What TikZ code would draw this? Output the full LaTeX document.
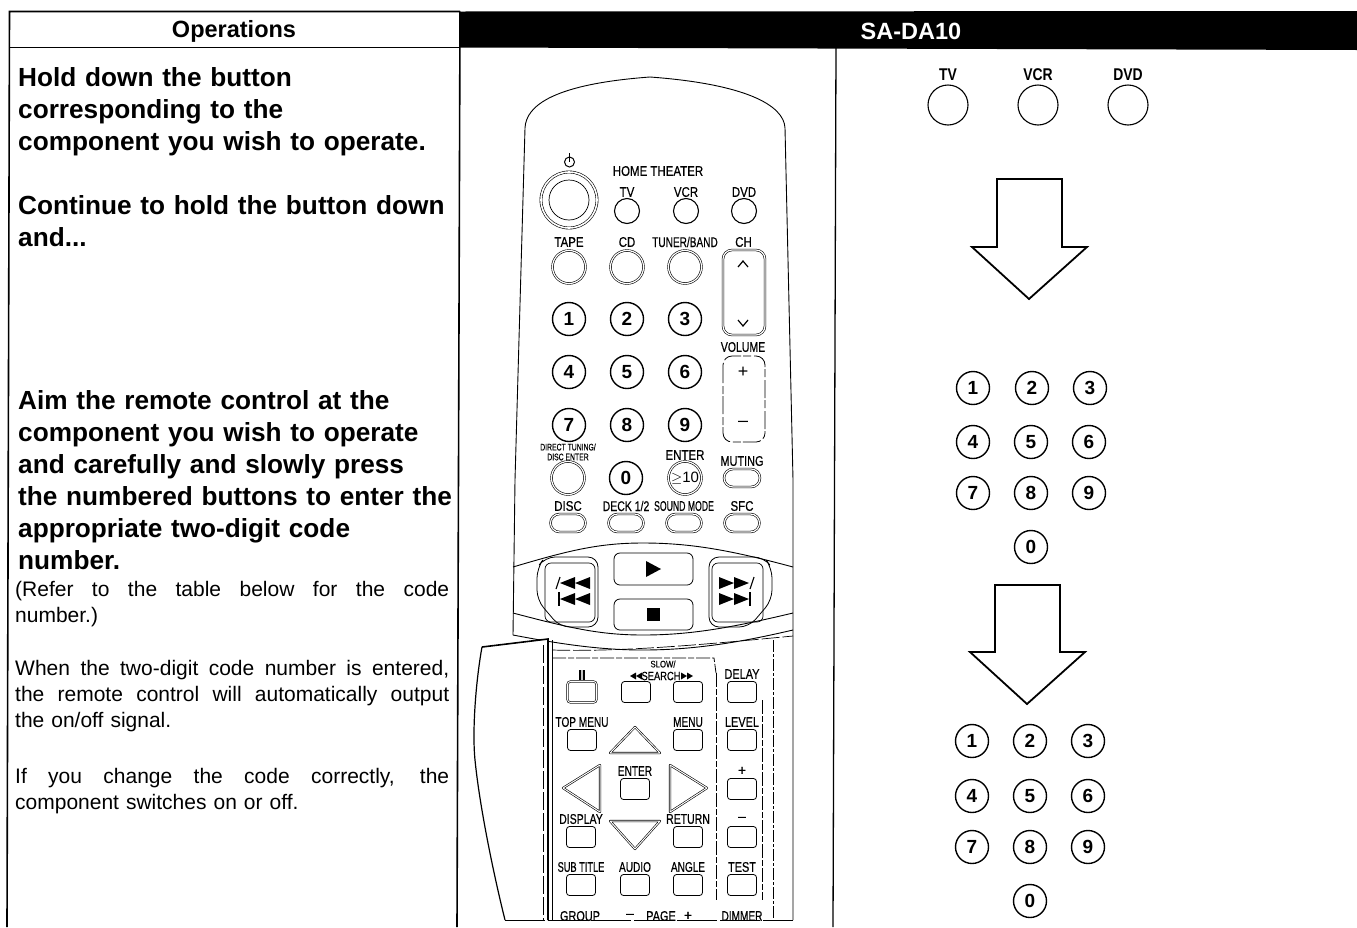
\documentclass[tikz,border=0pt]{standalone}
\usepackage{fontspec}
\setmainfont{Liberation Sans}
\newfontfamily\lblfont[FakeBold=0.5]{Liberation Sans}
\usetikzlibrary{shapes.misc}
\newcommand{\nw}[2][0.82]{\scalebox{#1}[1]{#2}}
\newcommand{\jl}[1]{\makebox[434pt][s]{\spaceskip=.28em plus 1fil\relax #1}}
\tikzset{
 x=1pt,y=-1pt,
 rule/.style={line width=1.6pt,black},
 bigtxt/.style={anchor=north west,inner sep=0pt,text width=445pt,align=left,font=\fontsize{26.2}{32}\selectfont\bfseries},
 smalltxt/.style={anchor=north west,inner sep=0pt,text width=436pt,align=left,font=\fontsize{21}{26}\selectfont},
 hdr/.style={inner sep=0pt,font=\fontsize{23.5}{26}\selectfont\bfseries},
 lbl/.style={inner sep=0pt,font=\fontsize{14}{15}\lblfont},
 tiny/.style={inner sep=0pt,font=\fontsize{9.5}{10}\lblfont},
 numbtn/.style={circle,draw,line width=1.4pt,minimum size=33pt,inner sep=0pt,font=\fontsize{19}{20}\selectfont\bfseries},
 keybtn/.style={circle,draw,line width=1.1pt,minimum size=25pt,inner sep=0pt},
 dblround/.style={circle,draw,double,double distance=1.2pt,line width=.6pt,minimum size=33pt,inner sep=0pt},
 oval/.style={rounded rectangle,draw,double,double distance=1.2pt,line width=.6pt,minimum width=#1,minimum height=18pt,inner sep=0pt},
 sqbtn/.style={rectangle,rounded corners=3pt,draw,line width=.8pt,minimum width=29pt,minimum height=21pt,inner sep=0pt},
 bodyline/.style={line width=.9pt},
 brokenline/.style={line width=.8pt,dash pattern=on 14pt off 2pt on 6pt off 2pt},
 dpad/.style={draw,double,double distance=1pt,line width=.6pt,line join=round},
 sidedigit/.style={circle,draw,line width=1.4pt,minimum size=33pt,inner sep=0pt,font=\fontsize{19}{20}\selectfont\bfseries},
 sidebtn/.style={circle,draw,line width=1.1pt,minimum size=40pt,inner sep=0pt},
 sidelbl/.style={inner sep=0pt,font=\fontsize{17}{18}\selectfont\bfseries},
 bigarrow/.style={draw,line width=1.8pt,line join=miter},
 tip/.style={fill=black,draw=none},
}
\begin{document}
\begin{tikzpicture}
\useasboundingbox (0,0) rectangle (1357,927);
% table
\fill[black] (460,11.5) -- (1357,11) -- (1357,50) -- (460,47.5) -- cycle;
\draw[rule] (7,927) -- (9.5,11.5) -- (460,11.5);
\draw[rule] (9.5,47.5) -- (460,47.5);
\draw[rule] (460,11.5) -- (457,927);
\draw[line width=1.3pt] (836,47) -- (833,927);
\node[hdr] (hop) at (234,31) {Operations};
\node[hdr,text=white] (hsa) at (911,31) {SA-DA10};
% left text
\node[bigtxt] (t1) at (18,67.5) {Hold down the button\\corresponding to the\\component you wish to operate.};
\node[bigtxt] (t2) at (18,195.5) {Continue to hold the button down\\and...};
\node[bigtxt] (t3) at (18,390.5) {Aim the remote control at the\\component you wish to operate\\and carefully and slowly press\\the numbered buttons to enter the\\appropriate two-digit code\\number.};
\node[smalltxt] (t4) at (15,581.5) {\jl{(Refer to the table below for the code}\\number.)};
\node[smalltxt] (t5) at (15,660.5) {\jl{When the two-digit code number is entered,}\\\jl{the remote control will automatically output}\\the on/off signal.};
\node[smalltxt] (t6) at (15,768.5) {\jl{If you change the code correctly, the}\\component switches on or off.};
% remote body
\draw[bodyline] (515,480) -- (513,635);
\draw[bodyline] (515,480) -- (525,128) .. controls (526,105) and (555,84) .. (650,77) .. controls (745,84) and (784,105) .. (785,128) -- (793,480) -- (793,920);
% power
\node[circle,draw,double,double distance=1.6pt,line width=.6pt,minimum size=56pt] (pwr) at (569,200) {};
\node[circle,draw,line width=.7pt,minimum size=40pt] (pwri) at (569,200) {};
\draw[line width=1pt] (569.5,162) circle (5);
\draw[line width=1pt] (569.5,153) -- (569.5,162);
\node[lbl] (ht) at (658,171) {\nw{HOME THEATER}};
% source keys
\foreach \n/\l/\x in {tv/TV/627,vcr/VCR/686,dvd/DVD/744}{
 \node[keybtn] (k\n) at (\x,211) {};
 \node[lbl] (l\n) at (\x,192) {\nw{\l}};
}
\node[dblround] (ktape) at (569,267) {}; \node[lbl] (ltape) at (569,242) {\nw{TAPE}};
\node[dblround] (kcd) at (627,267) {}; \node[lbl] (lcd) at (627,242) {\nw{CD}};
\node[dblround] (ktuner) at (685,267) {}; \node[lbl] (ltuner) at (685,242) {\nw[0.72]{TUNER/BAND}};
\node[lbl] (lch) at (743.5,242) {\nw{CH}};
\draw[double,double distance=1.2pt,line width=.6pt,rounded corners=9pt] (723,250) rectangle (765,335);
\draw[line width=1.2pt] (738,267) -- (743,261) -- (748,267);
\draw[line width=1.2pt] (738,320) -- (743,326) -- (748,320);
% digits
\foreach \d/\x/\y in {1/569/319,2/627/319,3/685/319,4/569/372,5/627/372,6/685/372,7/569/425,8/627/425,9/685/425,0/626/478}{
 \node[numbtn] (n\d) at (\x,\y) {\d};
}
\node[lbl] (lvol) at (743,347) {\nw[0.75]{VOLUME}};
\draw[line width=.8pt,rounded corners=9pt,dash pattern=on 18pt off 3pt on 8pt off 2pt] (723,356) rectangle (765,442);
\node[inner sep=0pt,font=\fontsize{18}{18}\selectfont] (vp) at (743,372) {+};
\node[inner sep=0pt,font=\fontsize{18}{18}\selectfont] (vm) at (743,424) {–};
\node[tiny] (ld1) at (568,447) {\nw[0.72]{DIRECT TUNING/}};
\node[tiny] (ld2) at (568,457) {\nw[0.72]{DISC ENTER}};
\node[dblround] (kdt) at (568,478) {};
\node[lbl] (lent) at (685,455) {\nw{ENTER}};
\node[dblround,font=\fontsize{15}{16}\selectfont] (kge) at (685,478) {$\geq$10};
\node[lbl] (lmut) at (742,461) {\nw[0.78]{MUTING}};
\node[oval=36pt] (kmut) at (742,478) {};
\foreach \n/\l/\x/\s in {disc/DISC/568/.82,deck/{DECK 1/2}/626/.75,snd/{SOUND MODE}/684/.62,sfc/SFC/742/.82}{
 \node[lbl] (l\n) at (\x,506) {\nw[\s]{\l}};
 \node[oval=35pt] (k\n) at (\x,523) {};
}
% transport band
\draw[bodyline] (513,567) .. controls (570,550) and (600,543) .. (643,543) .. controls (690,543) and (730,550) .. (793,567);
\draw[bodyline] (513,613) .. controls (570,628) and (600,635) .. (643,635) .. controls (690,635) and (730,628) .. (793,613);
\draw[bodyline] (513,635) .. controls (560,644) and (600,650) .. (643,650) .. controls (700,650) and (750,640) .. (793,630);
\draw[line width=.8pt,rounded corners=10pt] (537,568) -- (545,557) -- (598,557) -- (598,627) -- (560,627) -- (537,600) -- cycle;
\draw[line width=.7pt,rounded corners=6pt] (545,563) rectangle (595,622);
\draw[line width=.8pt,rounded corners=10pt] (772,568) -- (764,557) -- (709,557) -- (709,627) -- (749,627) -- (772,600) -- cycle;
\draw[line width=.7pt,rounded corners=6pt] (712,563) rectangle (763,622);
\draw[line width=.8pt,rounded corners=6pt] (614,553) rectangle (693,585);
\draw[line width=.8pt,rounded corners=6pt] (614,599) rectangle (693,630);
\fill[tip] (646,561) -- (661,569) -- (646,577) -- cycle;
\fill[tip] (647,608) rectangle (660,621);
% rewind / ff icons
\foreach \y in {583,599}{
 \fill[tip] (575,\y-6) -- (560,\y) -- (575,\y+6) -- cycle;
 \fill[tip] (590,\y-6) -- (575,\y) -- (590,\y+6) -- cycle;
 \fill[tip] (719,\y-6) -- (734,\y) -- (719,\y+6) -- cycle;
 \fill[tip] (734,\y-6) -- (749,\y) -- (734,\y+6) -- cycle;
}
\draw[line width=1.3pt] (559,592) -- (559,606);
\draw[line width=1.1pt] (556,589) -- (560,577);
\draw[line width=1.1pt] (750,589) -- (754,577);
\draw[line width=1.3pt] (750,592) -- (750,606);
% flap
\fill[white] (474,660) -- (482,647) -- (548,639) -- (548,921) -- (505,921) -- cycle;
\draw[line width=1.2pt] (482,647) .. controls (476,680) and (472,730) .. (475,760) .. controls (480,810) and (495,880) .. (505,920);
\draw[line width=1.6pt] (482,647) -- (548,639) -- (548,920);
\draw[line width=.9pt] (552,640) -- (552,920);
\draw[line width=.8pt,dash pattern=on 18pt off 3pt] (543,645) -- (543,920);
\draw[line width=1pt,dash pattern=on 40pt off 3pt] (505,920) -- (793,920);
% panels
\draw[brokenline] (552,658) -- (714,658) -- (716,673);
\draw[brokenline] (716,673) -- (716,900);
\draw[brokenline] (762,700) -- (762,900);
\draw[line width=.7pt,dash pattern=on 12pt off 2pt on 3pt off 2pt] (773,640) -- (773,920);
\draw[line width=.7pt,dash pattern=on 18pt off 3pt] (552,650) .. controls (620,652) and (700,645) .. (793,636);
% lower buttons
\node[sqbtn,double,double distance=1pt,line width=.6pt] (kpause) at (582,692) {};
\node[lbl] (lpause) at (582,675) {\textbf{II}};
\node[tiny] (lslow) at (663,664) {\nw{SLOW/}};
\node[lbl,font=\fontsize{12}{13}\lblfont] (lsearch) at (661,676) {\nw[0.78]{SEARCH}};
\foreach \x/\s in {630/1,636/1,693/-1,687/-1}{
 \fill[tip] (\x,676) -- (\x+\s*6,672.5) -- (\x+\s*6,679.5) -- cycle;
}
\foreach \n/\l/\x/\y/\s in {
 sl//636/692/1,sr//688/692/1,
 del/DELAY/742/692/.78,
 top/TOP MENU/582/740/.72,men/MENU/688/740/.72,lev/LEVEL/742/740/.78,
 ent/ENTER/635/789/.72,pl/+/742/789/1,
 dis/DISPLAY/581/837/.75,ret/RETURN/688/837/.75,mi/–/742/837/1,
 sub/SUB TITLE/581/885/.66,aud/AUDIO/635/885/.72,ang/ANGLE/688/885/.72,tes/TEST/742/885/.78}{
 \node[sqbtn] (k\n) at (\x,\y) {};
 \node[lbl] (l\n) at (\x,\y-18) {\nw[\s]{\l}};
}
\draw[dpad] (635,727) -- (660,753) -- (610,753) -- cycle;
\draw[dpad] (563,788) -- (600,765) -- (600,812) -- cycle;
\draw[dpad] (707,788) -- (670,765) -- (670,812) -- cycle;
\draw[dpad] (635,849) -- (610,821) -- (660,821) -- cycle;
\begin{scope}
\clip (540,905) rectangle (800,921);
\node[lbl] (lgrp) at (580,916) {\nw[.78]{GROUP}};
\node[lbl] (lmn) at (630,916) {–};
\node[lbl] (lpg) at (661,916) {\nw[.78]{PAGE}};
\node[lbl] (lpl) at (688,916) {+};
\node[lbl] (ldim) at (742,916) {\nw[.72]{DIMMER}};
\end{scope}
% right column
\foreach \n/\l/\x in {a/TV/948,b/VCR/1038,c/DVD/1128}{
 \node[sidebtn] (s\n) at (\x,105) {};
 \node[sidelbl] (sl\n) at (\x,75) {\nw[.82]{\l}};
}
\draw[bigarrow] (997,179) -- (1062,179) -- (1062,247) -- (1087,247) -- (1029,299) -- (972,247) -- (997,247) -- cycle;
\draw[bigarrow] (995,585) -- (1060,585) -- (1060,652) -- (1085,652) -- (1027,704) -- (970,652) -- (995,652) -- cycle;
\foreach \d/\x/\y in {1/973/388,2/1032/388,3/1090/388,4/973/442,5/1031/442,6/1089/442,7/973/493,8/1031/493,9/1089/493,0/1031/547}{
 \node[sidedigit] (u\d) at (\x,\y) {\d};
}
\foreach \d/\x/\y in {1/972/741,2/1030/741,3/1088/741,4/972/796,5/1030/796,6/1088/796,7/972/847,8/1030/847,9/1088/847,0/1030/901}{
 \node[sidedigit] (v\d) at (\x,\y) {\d};
}
\end{tikzpicture}
\end{document}
